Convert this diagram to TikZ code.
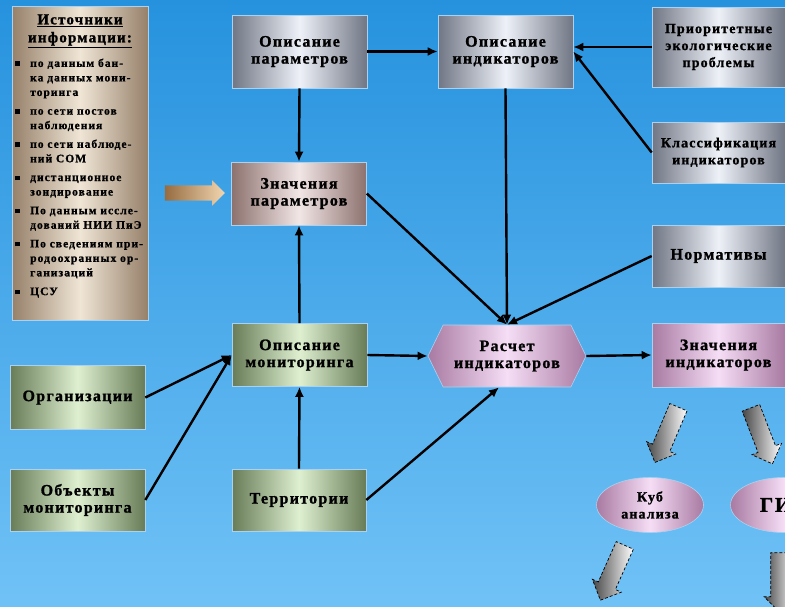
\documentclass[tikz,border=0pt]{standalone}
\usepackage{fontspec}
\setmainfont{Liberation Serif}
\newfontfamily\bxf{Liberation Serif}[LetterSpace=8,FakeBold=1.2]
\newfontfamily\lsf{Liberation Serif}[LetterSpace=9,FakeBold=1]
\usetikzlibrary{shapes.geometric,shapes.arrows,shapes.symbols,arrows.meta}
\definecolor{bgtop}{RGB}{38,146,222}
\definecolor{bgbot}{RGB}{112,194,246}
\definecolor{silE}{RGB}{112,118,132}
\definecolor{silM}{RGB}{238,241,248}
\definecolor{pbE}{RGB}{140,114,110}
\definecolor{pbM}{RGB}{242,230,230}
\definecolor{grE}{RGB}{104,124,88}
\definecolor{grM}{RGB}{222,240,208}
\definecolor{pkE}{RGB}{168,122,162}
\definecolor{pkM}{RGB}{246,222,246}
\definecolor{bgE}{RGB}{150,128,106}
\definecolor{bgM}{RGB}{240,230,214}
\definecolor{arE}{RGB}{150,108,66}
\definecolor{arM}{RGB}{242,214,176}
\definecolor{edge}{RGB}{170,210,240}
\newcommand{\srcitem}[1]{\par\vspace{3.2pt}\noindent\makebox[15pt][l]{\rule[1pt]{4.5pt}{4.5pt}}\parbox[t]{124pt}{\raggedright\strut #1\strut}}
\begin{document}
\begin{tikzpicture}[x=1pt,y=-1pt,
  box/.style={rectangle, draw=edge, line width=0.6pt, align=center, inner sep=0pt,
    font=\bxf\bfseries\fontsize{16}{17}\selectfont},
  silver/.style={box, left color=silE, right color=silE, middle color=silM},
  pbrown/.style={box, left color=pbE, right color=pbE, middle color=pbM},
  green/.style={box, left color=grE, right color=grE, middle color=grM},
  pink/.style={box, left color=pkE, right color=pkE, middle color=pkM},
  conn/.style={line width=2.4pt, -{Latex[length=10pt,width=9pt]}},
  blk/.style={single arrow, draw=black, densely dashed, line width=0.7pt,
    minimum height=60pt, single arrow head extend=6.5pt,
    inner sep=0pt, left color=gray!55!black, right color=white}
]
\useasboundingbox (0,0) rectangle (785,606);
\clip (0,0) rectangle (785,606);
\shade[top color=bgtop, bottom color=bgbot] (0,0) rectangle (785,606);

% source panel
\node[rectangle, draw=edge, line width=0.6pt, minimum width=136pt, minimum height=314pt,
  left color=bgE, right color=bgE, middle color=bgM, inner sep=0pt] (src) at (80,163) {};
\node[align=center, font=\bxf\bfseries\fontsize{15}{18}\selectfont, inner sep=0pt] (srct) at (80,31)
  {\underline{Источники}\\\underline{информации:}};
\node[anchor=north west, text width=136pt, inner sep=0pt,
  font=\lsf\bfseries\fontsize{11.5}{14.5}\selectfont] (srcl) at (15,49) {%
  \srcitem{по данным бан-\\ка данных мони-\\торинга}
  \srcitem{по сети постов\\наблюдения}
  \srcitem{по сети наблюде-\\ний СОМ}
  \srcitem{дистанционное\\зондирование}
  \srcitem{По данным иссле-\\дований НИИ ПиЭ}
  \srcitem{По сведениям при-\\родоохранных ор-\\ганизаций}
  \srcitem{ЦСУ}\par};

\node[single arrow, draw=none, minimum height=60pt, single arrow head extend=5pt,
  inner sep=0pt, left color=arE, right color=arM] (fat) at (191,193) {\rule{0pt}{15pt}};

% boxes
\node[silver, minimum width=135pt, minimum height=73pt] (op) at (299.5,51.5) {Описание\\параметров};
\node[silver, minimum width=135pt, minimum height=73pt] (oi) at (505.5,51.5) {Описание\\индикаторов};
\node[silver, minimum width=133pt, minimum height=80pt, font=\bxf\bfseries\fontsize{14}{17}\selectfont] (pr) at (718.5,47) {Приоритетные\\экологические\\проблемы};
\node[silver, minimum width=133pt, minimum height=61pt, font=\bxf\bfseries\fontsize{14}{17}\selectfont] (kl) at (718.5,152.5) {Классификация\\индикаторов};
\node[pbrown, minimum width=135pt, minimum height=63pt] (zp) at (299,193.5) {Значения\\параметров};
\node[silver, minimum width=133pt, minimum height=62pt] (nr) at (718.5,256) {Нормативы};
\node[green, minimum width=135pt, minimum height=63pt] (om) at (299.5,355) {Описание\\мониторинга};
\node[signal, signal to=west and east, signal pointer angle=128, draw=edge, line width=0.6pt,
  left color=pkE, right color=pkE, middle color=pkM, minimum width=158pt, minimum height=62pt,
  inner sep=0pt, align=center, font=\bxf\bfseries\fontsize{16}{17}\selectfont] (ri) at (507,356) {Расчет\\индикаторов};
\node[pink, minimum width=133pt, minimum height=64pt] (zi) at (718.5,355) {Значения\\индикаторов};
\node[green, minimum width=135pt, minimum height=64pt] (org) at (77.5,397.5) {Организации};
\node[green, minimum width=135pt, minimum height=62pt] (ob) at (77.5,500) {Объекты\\мониторинга};
\node[green, minimum width=134pt, minimum height=62pt] (ter) at (299,500) {Территории};
\node[ellipse, draw=edge, line width=0.6pt, minimum width=107pt, minimum height=55pt, inner sep=0pt,
  left color=pkE, right color=pkE, middle color=pkM, align=center,
  font=\bxf\bfseries\fontsize{14}{17}\selectfont] (kub) at (650,505) {Куб\\анализа};
\node[ellipse, draw=edge, line width=0.6pt, minimum width=107pt, minimum height=55pt, inner sep=0pt,
  left color=pkE, right color=pkE, middle color=pkM, align=center,
  font=\bxf\bfseries\fontsize{21}{22}\selectfont] (gis) at (784,505) {ГИС};

% block arrows
\node[blk, rotate=247] (b1) at (668.5,430.5) {\rule{0pt}{18pt}};
\node[blk, rotate=291] (b2) at (760,431.5) {\rule{0pt}{18pt}};
\node[blk, rotate=246] (b3) at (614.5,568.5) {\rule{0pt}{18pt}};
\node[blk, rotate=270] (b4) at (780,578) {\rule{0pt}{18pt}};

% connectors
\draw[conn] (op.east) -- (oi.west);
\draw[conn] (pr.west) -- (pr.west -| oi.east);
\draw[conn] (kl.west) -- (oi.east);
\draw[conn] (op.south) -- (zp.north);
\draw[conn] (om.north) -- (zp.south);
\draw[conn] (ter.north) -- (om.south);
\draw[conn] (oi.south) -- (ri.north);
\draw[conn] (zp.east) -- (ri.north);
\draw[conn] (nr.west) -- (ri.north);
\draw[conn] (om.east) -- (ri.west);
\draw[conn] (ter.east) -- ([xshift=-8pt]ri.south);
\draw[conn] (ri.east) -- (zi.west);
\draw[conn] (org.east) -- (om.west);
\draw[conn] (ob.east) -- (om.west);
\end{tikzpicture}
\end{document}
